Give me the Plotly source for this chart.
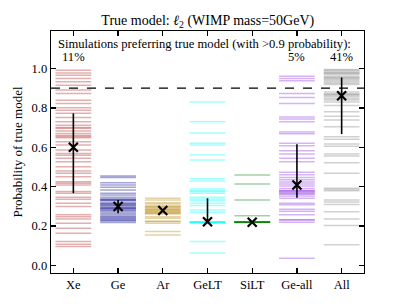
import plotly.graph_objects as go

categories = ["Xe", "Ge", "Ar", "GeLT", "SiLT", "Ge-all", "All"]
colors = ["178,34,34", "0,0,139", "184,134,11", "0,255,255", "0,128,0", "138,43,226", "128,128,128"]

xe_vals = [0.991, 0.977, 0.966, 0.949, 0.932, 0.915, 0.890, 0.873, 0.839, 0.822, 0.800, 0.788,
           0.772, 0.751, 0.729, 0.712, 0.696, 0.682, 0.670, 0.648, 0.628, 0.611, 0.586, 0.569,
           0.544, 0.527, 0.501, 0.480, 0.468, 0.451, 0.425, 0.417, 0.409, 0.375, 0.367, 0.346,
           0.336, 0.316, 0.299, 0.257, 0.248, 0.236, 0.215, 0.189, 0.164, 0.122, 0.108, 0.096,
           0.660, 0.655, 0.700, 0.560]
ge_vals = [0.454, 0.447, 0.420, 0.409, 0.397, 0.383, 0.367, 0.358, 0.346, 0.336, 0.329, 0.319,
           0.312, 0.302, 0.291, 0.282, 0.273, 0.265, 0.257, 0.245, 0.235, 0.226, 0.218,
           0.336, 0.330, 0.312, 0.305, 0.295, 0.290, 0.282, 0.250, 0.240, 0.230]
ar_vals = [0.341, 0.333, 0.319, 0.312, 0.302, 0.296, 0.286, 0.279, 0.268, 0.262, 0.248, 0.240,
           0.223, 0.215, 0.172, 0.155, 0.300, 0.290, 0.283, 0.275, 0.272, 0.265, 0.225]
gelt_vals = [0.830, 0.729, 0.673, 0.620, 0.612, 0.561, 0.535, 0.442, 0.429, 0.388, 0.380, 0.367,
             0.346, 0.338, 0.316, 0.304, 0.282, 0.270, 0.222, 0.220, 0.218, 0.216, 0.221, 0.219,
             0.122, 0.063, 0.375, 0.330]
silt_vals = [0.459, 0.414, 0.333, 0.253, 0.222, 0.221, 0.220, 0.219, 0.218, 0.220, 0.221, 0.219]
geall_vals = [0.960, 0.949, 0.938, 0.873, 0.853, 0.822, 0.754, 0.743, 0.729, 0.678, 0.668, 0.620,
              0.608, 0.582, 0.566, 0.544, 0.527, 0.473, 0.460, 0.447, 0.435, 0.424, 0.414, 0.403,
              0.391, 0.381, 0.370, 0.361, 0.353, 0.341, 0.316, 0.308, 0.286, 0.275, 0.257, 0.231,
              0.220, 0.037, 0.376, 0.366, 0.380, 0.232]
all_vals = [0.991, 0.985, 0.978, 0.970, 0.962, 0.955, 0.947, 0.940, 0.932, 0.925, 0.918, 0.880,
            0.872, 0.864, 0.856, 0.848, 0.840, 0.830, 0.812, 0.780, 0.758, 0.738, 0.704, 0.653,
            0.641, 0.616, 0.605, 0.566, 0.556, 0.522, 0.468, 0.392, 0.386, 0.380, 0.333, 0.322,
            0.310, 0.273, 0.236, 0.203, 0.105, 0.995, 0.975, 0.952, 0.868]
series = [xe_vals, ge_vals, ar_vals, gelt_vals, silt_vals, geall_vals, all_vals]

medians = [0.600, 0.299, 0.279, 0.222, 0.220, 0.409, 0.861]
err_low = [0.367, 0.265, 0.272, 0.220, 0.218, 0.344, 0.667]
err_high = [0.772, 0.333, 0.286, 0.341, 0.223, 0.615, 0.954]

pct_labels = {0: "11%", 5: "5%", 6: "41%"}

font_family = "Liberation Serif, Times New Roman, DejaVu Serif, serif"
fig = go.Figure()

for i, vals in enumerate(series):
    for v in vals:
        fig.add_trace(go.Scatter(
            x=[i - 0.4, i + 0.4], y=[v, v], mode="lines",
            line=dict(color=f"rgba({colors[i]},0.36)", width=1.5),
            showlegend=False, hoverinfo="skip"))

# threshold line
fig.add_trace(go.Scatter(x=[-0.5, 6.5], y=[0.9, 0.9], mode="lines",
                         line=dict(color="black", width=1.3, dash="dash"),
                         showlegend=False, hoverinfo="skip"))

# error bars
for i in range(len(categories)):
    fig.add_trace(go.Scatter(x=[i, i], y=[err_low[i], err_high[i]], mode="lines",
                             line=dict(color="black", width=1.6),
                             showlegend=False, hoverinfo="skip"))

fig.add_trace(go.Scatter(x=list(range(len(categories))), y=medians, mode="markers",
                         marker=dict(symbol="x-thin", size=9, color="black",
                                     line=dict(color="black", width=2.2)),
                         showlegend=False, hoverinfo="skip"))

fig.add_annotation(x=-0.38, y=1.125, xref="x", yref="y", xanchor="left", yanchor="middle",
                   text="Simulations preferring true model (with >0.9 probability):",
                   showarrow=False, font=dict(family=font_family, size=12.6, color="black"))
for i, t in pct_labels.items():
    fig.add_annotation(x=i, y=1.06, xref="x", yref="y", xanchor="center", yanchor="middle",
                       text=t, showarrow=False,
                       font=dict(family=font_family, size=12.6, color="black"))

fig.update_layout(
    width=405, height=304,
    margin=dict(l=51, r=41, t=31, b=31, autoexpand=False),
    plot_bgcolor="white", paper_bgcolor="white",
    title=dict(text="True model: <i>ℓ</i><sub>2</sub> (WIMP mass=50GeV)", x=0.513, xanchor="center",
               y=0.935, yanchor="middle",
               font=dict(family=font_family, size=14, color="black")),
    font=dict(family=font_family, size=12, color="black"),
)
fig.update_xaxes(range=[-0.5, 6.5], tickvals=list(range(len(categories))), ticktext=categories,
                 automargin=False,
                 showgrid=False, zeroline=False, showline=True, linecolor="black", linewidth=1.3,
                 mirror="ticks", ticks="inside", ticklen=5, tickcolor="black", tickwidth=1.3,
                 tickfont=dict(family=font_family, size=12.5, color="black"))
fig.update_yaxes(range=[-0.038, 1.19], tickvals=[0, 0.2, 0.4, 0.6, 0.8, 1.0],
                 ticktext=["0.0", "0.2", "0.4", "0.6", "0.8", "1.0"],
                 automargin=False,
                 showgrid=False, zeroline=False, showline=True, linecolor="black", linewidth=1.3,
                 mirror="ticks", ticks="inside", ticklen=5, tickcolor="black", tickwidth=1.3,
                 title=dict(text="Probability of true model", standoff=6,
                            font=dict(family=font_family, size=13, color="black")),
                 tickfont=dict(family=font_family, size=12.5, color="black"))

fig.write_html("out.html", config={"displayModeBar": False, "staticPlot": True},
               post_script="document.body.style.margin='0';document.body.style.overflow='hidden';")
